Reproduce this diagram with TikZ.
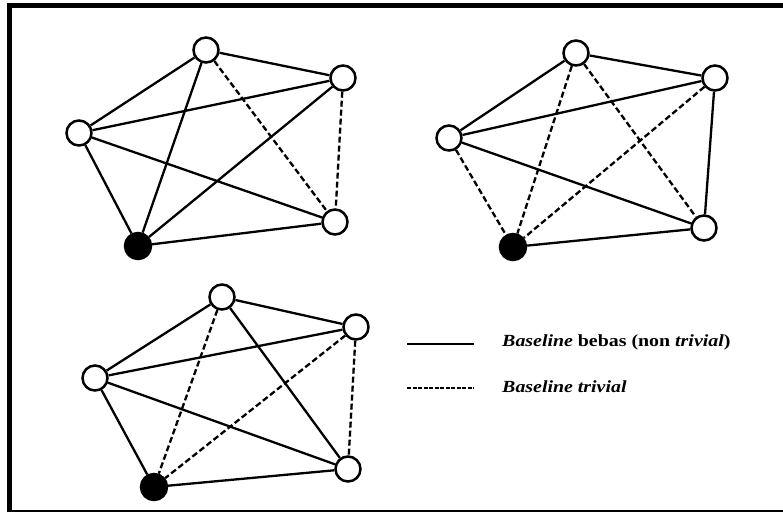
\documentclass[tikz,border=0pt]{standalone}
\usepackage{fontspec}
\setmainfont{Liberation Serif}
\begin{document}
\begin{tikzpicture}[x=1pt,y=-1pt,
  vtx/.style={circle,draw,line width=2.5pt,minimum size=25pt,inner sep=0pt,fill=white},
  src/.style={circle,draw,line width=2.5pt,minimum size=26pt,inner sep=0pt,fill=black},
  edge/.style={line width=2.3pt},
  triv/.style={line width=2.3pt,dash pattern=on 6pt off 3pt},
  lbl/.style={font=\fontsize{17}{19}\selectfont\bfseries,anchor=west,inner sep=0pt,xscale=1.17}]
\useasboundingbox (0,0) rectangle (783,512);
% frame
\draw[line width=5pt] (9.5,512) -- (9.5,5.5) -- (783,5.5);
\draw[line width=1.5pt] (9.5,510.8) -- (783,510.8);
% graph 1
\node[vtx] (a1) at (206,50) {};
\node[vtx] (b1) at (343,78) {};
\node[vtx] (c1) at (79,133) {};
\node[vtx] (d1) at (335,222) {};
\node[src] (e1) at (138,246) {};
\draw[edge] (a1)--(b1) (a1)--(c1) (a1)--(e1) (c1)--(b1) (c1)--(d1) (c1)--(e1) (b1)--(e1) (e1)--(d1);
\draw[triv] (a1)--(d1) (b1)--(d1);
% graph 2
\node[vtx] (a2) at (576,53) {};
\node[vtx] (b2) at (715,78) {};
\node[vtx] (c2) at (449,138) {};
\node[vtx] (d2) at (704,228) {};
\node[src] (e2) at (513,247) {};
\draw[edge] (a2)--(b2) (a2)--(c2) (c2)--(b2) (c2)--(d2) (b2)--(d2) (e2)--(d2);
\draw[triv] (a2)--(e2) (a2)--(d2) (c2)--(e2) (b2)--(e2);
% graph 3
\node[vtx] (a3) at (222,297) {};
\node[vtx] (b3) at (356,327) {};
\node[vtx] (c3) at (95,378) {};
\node[vtx] (d3) at (348,469) {};
\node[src] (e3) at (154,487) {};
\draw[edge] (a3)--(b3) (a3)--(c3) (a3)--(d3) (c3)--(b3) (c3)--(d3) (c3)--(e3) (e3)--(d3);
\draw[triv] (a3)--(e3) (b3)--(d3) (b3)--(e3);
% legend
\coordinate (l1a) at (407,344);
\coordinate (l1b) at (474,344);
\coordinate (l2a) at (407,388);
\coordinate (l2b) at (474,388);
\draw[edge] (l1a)--(l1b);
\draw[triv,dash pattern=on 4pt off 1.5pt] (l2a)--(l2b);
\node[lbl] (t1) at (502,342) {\textit{Baseline} bebas (non \textit{trivial})};
\node[lbl] (t2) at (502,387) {\textit{Baseline trivial}};
\end{tikzpicture}
\end{document}
